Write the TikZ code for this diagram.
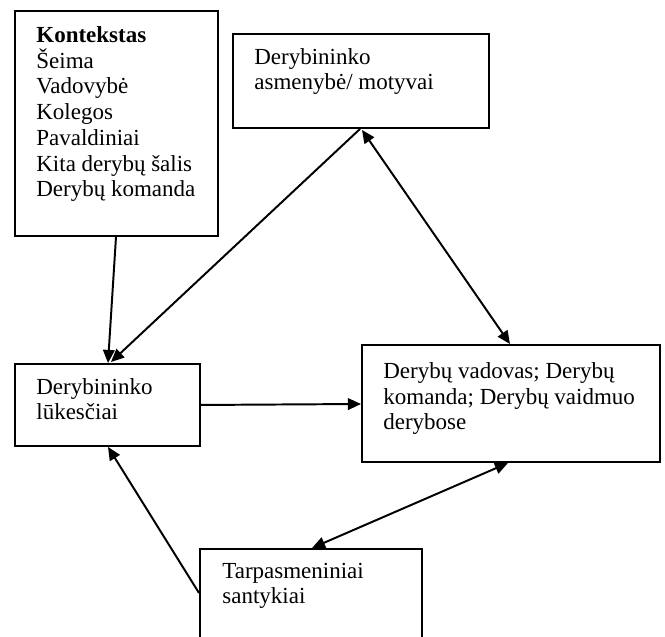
\documentclass[tikz,border=0pt]{standalone}
\usepackage{fontspec}
\setmainfont{Liberation Serif}
\usetikzlibrary{arrows.meta,calc}
\newcommand\unitpx{0.535}
\begin{document}
\begin{tikzpicture}[x=0.535pt,y=-0.535pt,
  box/.style={draw,line width=1.05pt,inner sep=0pt,anchor=north west},
  txt/.style={anchor=base west,align=left,inner sep=0pt,
    font=\fontsize{12.3pt}{13.8pt}\selectfont},
  link/.style={line width=1.05pt,-{Triangle[length=7pt,width=6.2pt]}},
  both/.style={line width=1.05pt,{Triangle[length=7pt,width=6.2pt]}-{Triangle[length=7pt,width=6.2pt]}}]
\clip (0,0) rectangle (665,637);
\fill[white] (0,0) rectangle (665,637);

% boxes
\node[box,minimum width={203*\unitpx pt},minimum height={225*\unitpx pt}] (ctx) at (14,10) {};
\node[box,minimum width={256*\unitpx pt},minimum height={94*\unitpx pt}] (mot) at (232,33) {};
\node[box,minimum width={185*\unitpx pt},minimum height={82*\unitpx pt}] (exp) at (14,363) {};
\node[box,minimum width={298*\unitpx pt},minimum height={117*\unitpx pt}] (lead) at (361,344) {};
\node[box,minimum width={222*\unitpx pt},minimum height={140*\unitpx pt}] (rel) at (199,548) {};

% texts (placed by the baseline of their last line)
\node[txt] (ctx-t) at (36,197) {\textbf{Kontekstas}\\Šeima\\Vadovybė\\Kolegos\\Pavaldiniai\\Kita derybų šalis\\Derybų komanda};
\node[txt] (mot-t) at (254,90) {Derybininko\\asmenybė/ motyvai};
\node[txt] (exp-t) at (36,420) {Derybininko\\lūkesčiai};
\node[txt] (lead-t) at (383,430) {Derybų vadovas; Derybų\\komanda; Derybų vaidmuo\\derybose};
\node[txt] (rel-t) at (222,604) {Tarpasmeniniai\\santykiai};

% connectors
\draw[link] ($(ctx.south west)+(102,0)$) -- ($(exp.north west)+(94,0)$);
\draw[link] ($(mot.south west)+(128,0)$) -- ($(exp.north west)+(97,-1)$);
\draw[both] ($(mot.south west)+(130,1)$) -- ($(lead.north west)+(149,0)$);
\draw[link] (exp.east) -- ($(lead.north west)+(0,60)$);
\draw[link] ($(rel.north west)+(0,45)$) -- ($(exp.south west)+(94,0)$);
\draw[both] ($(lead.south west)+(147,0)$) -- ($(rel.north west)+(113,0)$);
\end{tikzpicture}
\end{document}
